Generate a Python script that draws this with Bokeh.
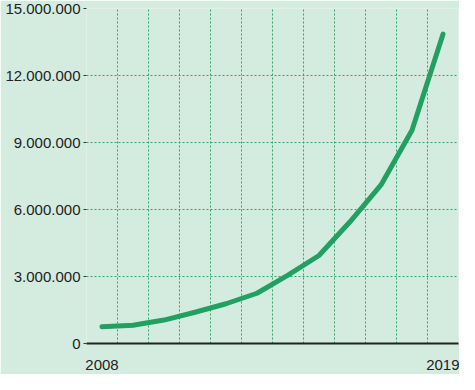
from bokeh.plotting import figure
from bokeh.models import FixedTicker, Range1d
from bokeh.embed import file_html
from bokeh.resources import INLINE

years = [2008, 2009, 2010, 2011, 2012, 2013, 2014, 2015, 2016, 2017, 2018, 2019]
values = [750000, 820000, 1050000, 1400000, 1780000, 2250000, 3060000, 3940000,
          5450000, 7100000, 9550000, 13850000]
y_ticks = [0, 3000000, 6000000, 9000000, 12000000, 15000000]
y_labels = ["0", "3.000.000", "6.000.000", "9.000.000", "12.000.000", "15.000.000"]
x_ticks = [2008, 2019]
x_labels = ["2008", "2019"]
x_grid = [2007.5 + i for i in range(13)]

BG = "#d4ecdf"
GRID = "#2ea66a"
LINE = "#21a062"

p = figure(width=459, height=374, output_backend="svg", toolbar_location=None,
           x_range=Range1d(2007.5, 2019.5), y_range=Range1d(0, 15000000),
           min_border_left=86, min_border_right=1, min_border_top=8, min_border_bottom=31)
p.background_fill_color = BG
p.border_fill_color = BG
p.outline_line_color = None

p.xgrid.ticker = FixedTicker(ticks=x_grid)
p.xgrid.grid_line_color = GRID
p.xgrid.grid_line_dash = "2 2"
p.xgrid.grid_line_width = 1
p.ygrid.ticker = FixedTicker(ticks=y_ticks)
p.ygrid.grid_line_color = GRID
p.ygrid.grid_line_dash = "2 2"
p.ygrid.grid_line_width = 1

p.xaxis.ticker = FixedTicker(ticks=x_ticks)
p.xaxis.major_label_overrides = dict(zip(x_ticks, x_labels))
p.xaxis.axis_line_color = "#222222"
p.xaxis.axis_line_width = 2
p.xaxis.major_tick_line_color = None
p.xaxis.minor_tick_line_color = None
p.xaxis.major_label_standoff = 10
p.xaxis.major_label_text_font = "Liberation Sans"
p.xaxis.major_label_text_font_size = "15px"
p.xaxis.major_label_text_color = "#222222"

p.yaxis.ticker = FixedTicker(ticks=y_ticks)
p.yaxis.major_label_overrides = dict(zip(y_ticks, y_labels))
p.yaxis.axis_line_color = None
p.yaxis.major_tick_line_color = "#333333"
p.yaxis.major_tick_in = 0
p.yaxis.major_tick_out = 3
p.yaxis.minor_tick_line_color = None
p.yaxis.major_label_standoff = 3
p.yaxis.major_label_text_font = "Liberation Sans"
p.yaxis.major_label_text_font_size = "15px"
p.yaxis.major_label_text_color = "#222222"

p.line(years, values, line_color=LINE, line_width=5, line_cap="round", line_join="round")

open("out.html", "w").write(file_html(p, INLINE))
